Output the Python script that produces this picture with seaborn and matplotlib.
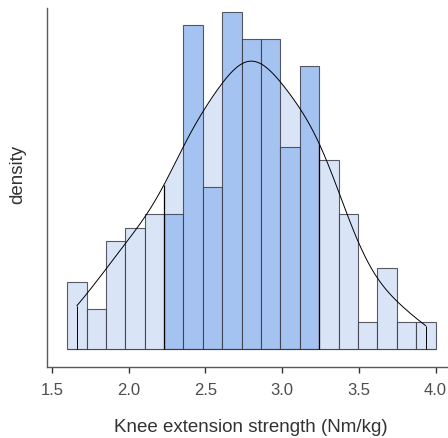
import numpy as np
import pandas as pd
import matplotlib
matplotlib.use("Agg")
import matplotlib.pyplot as plt
import seaborn as sns

# ---- data ----
bin_lo, bin_hi, n_bins = 1.6, 4.0, 19
counts = [5, 3, 8, 9, 10, 10, 24, 12, 25, 23, 23, 15, 21, 14, 10, 2, 6, 2, 2]
central_first_bin, central_last_bin = 5, 12   # bins shaded darker
xticks = [1.5, 2.0, 2.5, 3.0, 3.5, 4.0]
xtick_labels = ["1.5", "2.0", "2.5", "3.0", "3.5", "4.0"]

light = "#d9e5f7"
dark = "#a5c3f0"

edges = np.linspace(bin_lo, bin_hi, n_bins + 1)
centers = (edges[:-1] + edges[1:]) / 2
zone = ["central" if central_first_bin <= i <= central_last_bin else "outer"
        for i in range(n_bins)]
df = pd.DataFrame({"strength": centers, "count": counts, "zone": zone})

sns.set_style("white")
plt.rcParams["font.family"] = ["Liberation Sans", "DejaVu Sans"]

fig = plt.figure(figsize=(4.48, 4.38), dpi=100)
ax = fig.add_axes([47 / 448, 71.3 / 438, 407 / 448, 358.7 / 438])

# density curve (computed from the binned data)
sns.kdeplot(data=df, x="strength", weights="count", cut=0, bw_adjust=0.58,
            color="black", linewidth=0.7, ax=ax, zorder=3)
kx, ky = ax.lines[-1].get_data()

# shaded density region over the central bins (behind bars)
lo, hi = edges[central_first_bin], edges[central_last_bin + 1]
xs = np.linspace(lo, hi, 300)
ys = np.interp(xs, kx, ky)
ax.fill_between(xs, 0, ys, color=light, linewidth=0, zorder=0.5)
ax.vlines([lo, hi], 0, [ys[0], ys[-1]], color="black", linewidth=0.9, zorder=3)
# closing edges of density outline
ax.vlines([kx[0], kx[-1]], 0, [ky[0], ky[-1]], color="black", linewidth=0.7, zorder=3)

sns.histplot(data=df, x="strength", weights="count", bins=n_bins,
             binrange=(bin_lo, bin_hi), stat="density",
             hue="zone", palette={"central": dark, "outer": light},
             hue_order=["outer", "central"], common_norm=True, alpha=1,
             edgecolor=(0.2, 0.2, 0.25, 0.8), linewidth=0.8, legend=False,
             ax=ax, zorder=1)

scale = sum(counts) * (edges[1] - edges[0])
ax.set_ylim(-1.29 / scale, 25.28 / scale)
ax.set_xlim(1.469, 4.12)

ax.set_yticks([])
ax.set_xticks(xticks)
ax.set_xticklabels(xtick_labels)
for s in ["top", "right"]:
    ax.spines[s].set_visible(False)
for s in ["left", "bottom"]:
    ax.spines[s].set_color("#5a5a5a")
    ax.spines[s].set_linewidth(1.0)
ax.tick_params(axis="x", bottom=True, length=4, width=1, color="#333333",
               labelsize=12, labelcolor="#4d4d4d", pad=8)
ax.set_xlabel("Knee extension strength (Nm/kg)", fontsize=13.5, color="#333333",
              labelpad=15)
ax.set_ylabel("density", fontsize=13.5, color="#333333")
ax.yaxis.set_label_coords(-0.052, 0.537)

fig.savefig("out.png", dpi=100)
